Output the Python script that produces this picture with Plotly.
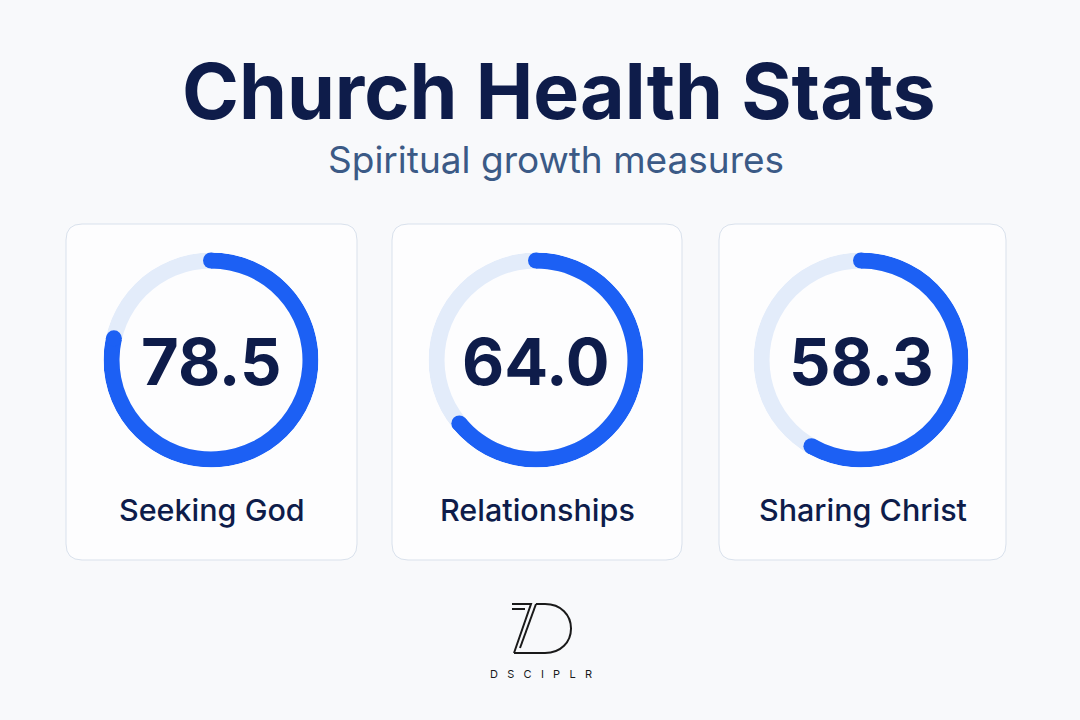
import plotly.graph_objects as go

# ---- data ----
categories = ["Seeking God", "Relationships", "Sharing Christ"]
values = [78.5, 64.0, 58.3]
max_value = 100.0
title_text = "Church Health Stats"
subtitle_text = "Spiritual growth measures"
logo_text = "D S C I P L R"

# ---- styles ----
W, H = 1080, 720
BG = "#f8f9fb"
CARD_FILL = "#fdfdfe"
CARD_LINE = "#d9e1ec"
BLUE = "#1c60f4"
TRACK = "#e3ecfa"
NAVY = "#0e1c4a"
SUB = "#3b5a86"

card_x = [(66, 357), (392, 682), (719, 1006)]
card_y = (224, 560)
ring_cx = [211, 536, 861]
ring_cy = 360
R_OUT = 107.5
THICK = 16
base = 1 - THICK / R_OUT
mid = 1 - THICK / 2 / R_OUT


def px(x):
    return x / W


def py(y):
    return 1 - y / H


fig = go.Figure()
shapes = []
annotations = []

for i, (cat, val) in enumerate(zip(categories, values)):
    pid = "polar" if i == 0 else f"polar{i + 1}"
    sub = pid
    deg = val / max_value * 360
    # track
    fig.add_trace(go.Barpolar(
        r=[1 - base], base=[base], theta=[180], width=[360],
        marker=dict(color=TRACK, line=dict(width=0)),
        subplot=sub, hoverinfo="skip", showlegend=False))
    # progress
    fig.add_trace(go.Barpolar(
        r=[1 - base], base=[base], theta=[deg / 2], width=[deg],
        marker=dict(color=BLUE, line=dict(width=0)),
        subplot=sub, hoverinfo="skip", showlegend=False))
    # round caps
    fig.add_trace(go.Scatterpolar(
        r=[mid, mid], theta=[0, deg], mode="markers",
        marker=dict(size=THICK, color=BLUE, line=dict(width=0)),
        subplot=sub, hoverinfo="skip", showlegend=False))

    cx = ring_cx[i]
    fig.update_layout(**{pid: dict(
        domain=dict(x=[px(cx - R_OUT), px(cx + R_OUT)],
                    y=[py(ring_cy + R_OUT), py(ring_cy - R_OUT)]),
        bgcolor="rgba(0,0,0,0)",
        hole=0,
        radialaxis=dict(range=[0, 1], visible=False, showgrid=False),
        angularaxis=dict(visible=False, showgrid=False, rotation=90,
                         direction="clockwise"),
        barmode="overlay",
    )})

    # card with rounded corners
    x0, x1 = card_x[i]
    y0, y1 = card_y
    r = 16
    path = (f"M {px(x0 + r)},{py(y0)} L {px(x1 - r)},{py(y0)} "
            f"Q {px(x1)},{py(y0)} {px(x1)},{py(y0 + r)} "
            f"L {px(x1)},{py(y1 - r)} "
            f"Q {px(x1)},{py(y1)} {px(x1 - r)},{py(y1)} "
            f"L {px(x0 + r)},{py(y1)} "
            f"Q {px(x0)},{py(y1)} {px(x0)},{py(y1 - r)} "
            f"L {px(x0)},{py(y0 + r)} "
            f"Q {px(x0)},{py(y0)} {px(x0 + r)},{py(y0)} Z")
    shapes.append(dict(type="path", xref="paper", yref="paper", path=path,
                       fillcolor=CARD_FILL, line=dict(color=CARD_LINE, width=1),
                       layer="below"))

    annotations.append(dict(
        text=f"{val:.1f}", x=px(cx), y=py(ring_cy + 1), xref="paper", yref="paper",
        xanchor="center", yanchor="middle", showarrow=False,
        font=dict(family="Inter", size=65, color=NAVY, weight=700)))
    annotations.append(dict(
        text=cat, x=px((x0 + x1) / 2), y=py(509), xref="paper", yref="paper",
        xanchor="center", yanchor="middle", showarrow=False,
        font=dict(family="Inter", size=30.5, color=NAVY, weight=500)))

# title & subtitle
annotations.append(dict(
    text=title_text, x=px(559), y=py(91), xref="paper", yref="paper",
    xanchor="center", yanchor="middle", showarrow=False,
    font=dict(family="Inter", size=77, color=NAVY, weight=700)))
annotations.append(dict(
    text=subtitle_text, x=px(556), y=py(159), xref="paper", yref="paper",
    xanchor="center", yanchor="middle", showarrow=False,
    font=dict(family="Inter", size=37, color=SUB, weight=400)))

# logo
LOGO = "#1a1a1a"
logo_paths = [
    f"M {px(512)},{py(604)} L {px(531)},{py(604)} L {px(514)},{py(653)}",
    f"M {px(512)},{py(609)} L {px(525)},{py(609)}",
    f"M {px(536)},{py(604)} L {px(545)},{py(604)} "
    f"C {px(561)},{py(604)} {px(571)},{py(615)} {px(571)},{py(628.5)} "
    f"C {px(571)},{py(642)} {px(561)},{py(653)} {px(545)},{py(653)} "
    f"L {px(514)},{py(653)}",
    f"M {px(536)},{py(604)} L {px(520)},{py(648)}",
]
for p in logo_paths:
    shapes.append(dict(type="path", xref="paper", yref="paper", path=p,
                       line=dict(color=LOGO, width=2)))
annotations.append(dict(
    text=logo_text.replace(" ", "&nbsp;&nbsp;&nbsp;"), x=px(541), y=py(674),
    xref="paper", yref="paper", xanchor="center", yanchor="middle",
    showarrow=False, font=dict(family="Inter", size=11, color=LOGO)))

fig.update_layout(
    width=W, height=H,
    margin=dict(l=0, r=0, t=0, b=0),
    paper_bgcolor=BG, plot_bgcolor=BG,
    shapes=shapes, annotations=annotations,
    showlegend=False,
)

fig.write_html(
    "out.html",
    config={"displayModeBar": False, "staticPlot": True},
    post_script="document.body.style.margin='0';document.body.style.overflow='hidden';",
)
